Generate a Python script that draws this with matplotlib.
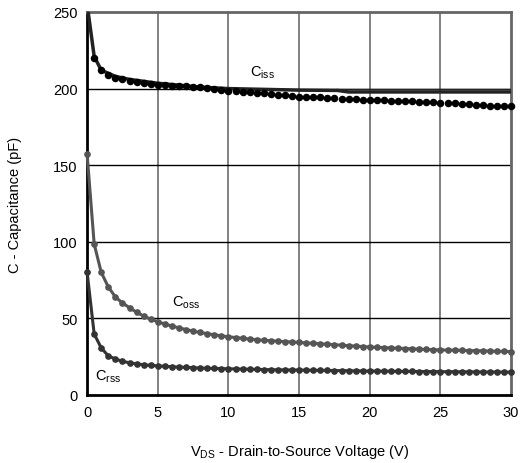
import matplotlib.pyplot as plt
import numpy as np

plt.rcParams['font.family'] = ['Liberation Sans', 'DejaVu Sans']

# sampled drain-source voltages (V), every 0.5 V
vds = np.arange(0, 30.5, 0.5)

# Ciss measured points (pF), from 0.5 V on
ciss_pts = [220, 212, 209, 207, 206, 205, 204.3, 203.7, 203.1, 202.6,
            202.2, 201.9, 201.6, 201.4, 201.2, 200.8, 200.2, 199.6, 199, 198.5,
            198.3, 198, 197.7, 197.3, 197, 196.5, 196, 195.5, 195, 194.7,
            194.6, 194.4, 194.2, 194, 193.8, 193.5, 193.2, 193, 192.8, 192.6,
            192.5, 192.3, 192.1, 192, 191.8, 191.6, 191.4, 191.2, 191, 190.8,
            190.6, 190.3, 190, 189.7, 189.4, 189.1, 188.8, 188.6, 188.5, 188.4]

# Ciss model curve
ciss_line_v = [0, 0.5, 1, 2, 3, 5, 8, 10, 15, 17.7, 18.5, 30]
ciss_line_c = [255, 221, 212, 208, 206, 203.5, 201, 200, 199, 198.8, 197.8, 197.8]
ciss_thin_v = [17.7, 30]
ciss_thin_c = [199.9, 199.9]

coss = [157, 98.5, 80, 70.5, 64, 60, 57, 54, 51.5, 49.5, 47.8,
        46.3, 45, 43.8, 42.7, 41.7, 40.8, 40, 39.3, 38.6, 38,
        37.5, 37, 36.5, 36.1, 35.7, 35.4, 35.1, 34.8, 34.6, 34.3,
        34, 33.7, 33.4, 33.1, 32.8, 32.5, 32.2, 31.9, 31.6, 31.3,
        31.1, 30.9, 30.7, 30.5, 30.3, 30.1, 29.9, 29.7, 29.5, 29.4,
        29.3, 29.2, 29.1, 29, 28.9, 28.8, 28.6, 28.5, 28.4, 28.3]

crss = [80, 39.8, 30.7, 25.5, 23.5, 22, 21, 20.3, 19.7, 19.3, 19,
        18.7, 18.4, 18.2, 18, 17.8, 17.6, 17.4, 17.3, 17.2, 17.1,
        17, 16.9, 16.8, 16.7, 16.6, 16.5, 16.4, 16.4, 16.3, 16.3,
        16.2, 16.1, 16.1, 16, 15.9, 15.9, 15.8, 15.7, 15.7, 15.6,
        15.6, 15.5, 15.5, 15.4, 15.4, 15.4, 15.3, 15.3, 15.3, 15.2,
        15.2, 15.2, 15.1, 15.1, 15.1, 15, 15, 15, 14.9, 14.9]

fig = plt.figure(figsize=(5.28, 4.64), dpi=100)
ax = fig.add_axes([0.165, 0.1466, 0.803, 0.8254])

# grid: vertical grey, horizontal black
for x in range(5, 30, 5):
    ax.axvline(x, color='#777777', lw=1.3, zorder=1)
for y in range(50, 250, 50):
    ax.axhline(y, color='black', lw=1.0, zorder=1)

ax.plot(ciss_line_v, ciss_line_c, color='#222222', lw=2.5, zorder=3, clip_on=True)
ax.plot(ciss_thin_v, ciss_thin_c, color='#222222', lw=1.0, zorder=3)
ax.plot(vds[1:], ciss_pts, 'o', color='black', ms=4.4, zorder=4, clip_on=False)

ax.plot(vds, coss, '-o', color='#555555', lw=2.2, ms=3.8, zorder=3, clip_on=False)
ax.plot(vds, crss, '-o', color='#333333', lw=2.2, ms=3.8, zorder=3, clip_on=False)

ax.text(11.53, 208.9, r'C$_{\mathregular{iss}}$', fontsize=10.5, va='baseline')
ax.text(5.98, 58.3, r'C$_{\mathregular{oss}}$', fontsize=10.5, va='baseline')
ax.text(0.57, 10.4, r'C$_{\mathregular{rss}}$', fontsize=10.5, va='baseline')

ax.set_xlim(0, 30)
ax.set_ylim(0, 250)
ax.set_xticks(range(0, 31, 5))
ax.set_yticks(range(0, 251, 50))
ax.tick_params(length=0, labelsize=10.5, pad=7)

for side in ['left', 'bottom']:
    ax.spines[side].set_linewidth(2)
    ax.spines[side].set_color('black')
for side in ['top', 'right']:
    ax.spines[side].set_linewidth(2)
    ax.spines[side].set_color('#666666')

ax.set_xlabel(r'V$_{\mathregular{DS}}$ - Drain-to-Source Voltage (V)', fontsize=10.5, labelpad=17)
ax.set_ylabel('C - Capacitance (pF)', fontsize=10.5, labelpad=22)

plt.savefig('out.png', dpi=100)
